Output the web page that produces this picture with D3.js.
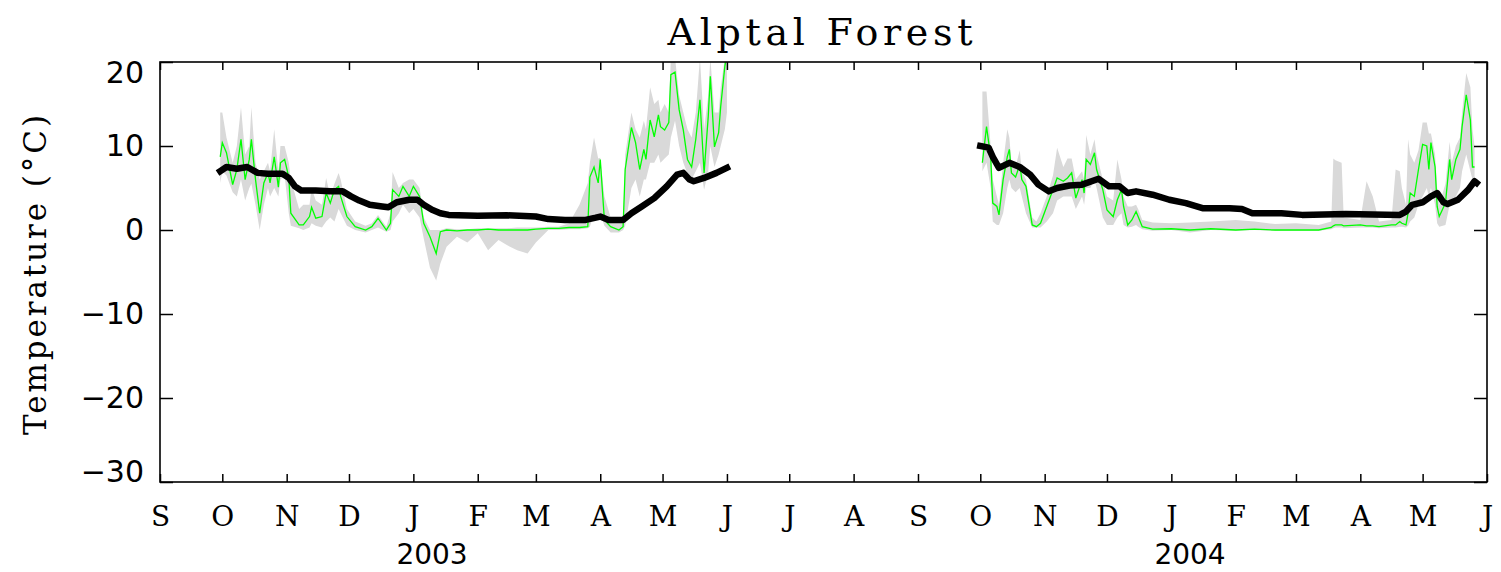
<!DOCTYPE html>
<html>
<head>
<meta charset="utf-8">
<script src="https://cdn.jsdelivr.net/npm/d3@7/dist/d3.min.js"></script>
<style>
  body { margin: 0; background: #fff; }
  svg { display: block; }
</style>
</head>
<body>
<div id="chart"></div>
<script>
// ---- data (°C) ----
// season 1: Oct 2002 - Jun 2003
var s1Dates = ["2002-09-30","2002-10-01","2002-10-03","2002-10-06","2002-10-08","2002-10-10","2002-10-12","2002-10-14","2002-10-15","2002-10-17",
  "2002-10-19","2002-10-21","2002-10-23","2002-10-24","2002-10-26","2002-10-28","2002-10-29","2002-10-31","2002-11-02","2002-11-03",
  "2002-11-07","2002-11-09","2002-11-12","2002-11-13","2002-11-15","2002-11-18","2002-11-20","2002-11-22","2002-11-24","2002-11-26",
  "2002-11-27","2002-11-30","2002-12-04","2002-12-09","2002-12-12","2002-12-15","2002-12-19","2002-12-21","2002-12-22","2002-12-25",
  "2002-12-27","2002-12-30","2003-01-01","2003-01-04","2003-01-06","2003-01-09","2003-01-12","2003-01-14","2003-01-17","2003-01-22",
  "2003-01-27","2003-02-01","2003-02-06","2003-02-11","2003-02-15","2003-02-20","2003-02-25","2003-03-01","2003-03-07","2003-03-12",
  "2003-03-17","2003-03-22","2003-03-26","2003-03-27","2003-03-29","2003-03-31","2003-04-01","2003-04-03","2003-04-06","2003-04-10",
  "2003-04-12","2003-04-13","2003-04-16","2003-04-18","2003-04-20","2003-04-22","2003-04-23","2003-04-25","2003-04-27","2003-04-29",
  "2003-04-30","2003-05-02","2003-05-04","2003-05-05","2003-05-07","2003-05-09","2003-05-11","2003-05-13","2003-05-15","2003-05-17",
  "2003-05-19","2003-05-21","2003-05-23","2003-05-24","2003-05-26","2003-05-28","2003-05-29","2003-05-31","2003-06-01"];
var s1Air = [8.7,10.4,9.2,5.4,7.2,10.8,6.0,8.4,10.8,6.0,
  2.0,5.6,6.8,5.6,8.7,5.1,8.0,8.4,6.3,2.0,
  0.6,0.6,1.6,2.7,1.4,1.6,4.4,3.2,4.8,5.2,
  4.0,1.6,0.4,0.0,0.4,1.4,0.0,0.8,4.8,4.0,
  5.2,4.0,5.2,4.0,0.8,-0.8,-2.8,-0.2,0.0,-0.1,
  0.0,0.0,0.1,0.0,0.0,0.0,0.0,0.1,0.2,0.2,
  0.3,0.3,0.4,6.3,7.5,5.6,8.4,1.2,0.4,0.0,
  0.4,7.2,12.2,10.4,7.2,9.6,8.4,13.1,11.1,13.7,
  12.3,11.9,12.8,18.5,18.8,14.3,11.9,8.4,7.5,10.8,
  15.5,6.8,13.5,18.3,9.9,11.6,14.7,19.5,21.0];
var s1AirMax = [14.0,14.0,11.0,8.0,10.0,14.6,9.0,10.0,14.6,8.0,
  6.0,7.0,8.0,7.0,12.0,7.0,10.0,10.0,8.0,6.0,
  2.5,3.0,3.0,5.0,3.5,3.0,6.2,4.0,5.5,6.8,
  6.0,2.5,1.0,0.5,0.8,1.8,0.4,2.0,6.9,5.0,
  5.6,6.0,6.0,5.0,1.5,0.0,0.0,0.0,0.2,0.1,
  0.1,0.2,0.2,0.2,0.2,0.3,0.3,0.3,0.4,0.4,
  0.8,3.0,5.6,8.0,11.0,8.5,8.6,4.0,1.5,0.8,
  1.0,9.0,14.0,12.0,11.0,13.0,12.0,17.0,15.0,15.5,
  14.0,15.0,14.0,20.5,20.5,16.0,14.0,12.0,11.0,14.0,
  20.5,12.0,16.0,20.5,14.0,14.0,17.0,20.5,21.0];
var s1AirMin = [5.6,7.0,6.5,4.5,4.0,6.0,3.5,5.0,5.5,3.0,
  0.0,3.0,5.0,4.0,5.0,4.0,6.0,6.5,2.0,0.5,
  0.2,0.0,0.3,0.8,0.5,0.3,1.0,1.5,1.0,2.5,
  2.0,0.5,0.0,-0.3,0.0,0.3,-0.2,0.0,1.0,2.0,
  3.0,2.0,2.5,1.5,-1.0,-4.5,-6.0,-4.0,-2.0,-0.8,
  -1.5,-0.4,-2.4,-1.2,-1.8,-2.4,-2.8,-1.5,0.0,0.0,
  0.1,0.1,0.2,0.4,2.0,1.5,2.0,0.5,-0.3,-0.3,
  0.0,0.5,5.0,6.0,4.0,6.0,6.0,8.0,8.0,9.0,
  8.0,8.5,9.0,11.0,13.0,10.0,8.0,6.7,6.0,7.0,
  8.0,4.8,7.0,10.0,7.5,9.0,10.0,12.0,14.0];
var s1SoilDates = ["2002-09-30","2002-10-03","2002-10-08","2002-10-13","2002-10-18","2002-10-23","2002-10-30","2002-11-02","2002-11-05","2002-11-08",
  "2002-11-15","2002-11-22","2002-11-28","2002-12-02","2002-12-06","2002-12-11","2002-12-17","2002-12-20","2002-12-24","2002-12-30",
  "2003-01-03","2003-01-06","2003-01-10","2003-01-14","2003-01-18","2003-02-01","2003-02-15","2003-03-01","2003-03-07","2003-03-15",
  "2003-03-25","2003-04-01","2003-04-05","2003-04-12","2003-04-16","2003-04-21","2003-04-27","2003-05-03","2003-05-08","2003-05-11",
  "2003-05-14","2003-05-16","2003-05-21","2003-05-27","2003-06-01"];
var s1Soil = [7.0,7.5,7.3,7.5,6.8,6.7,6.7,6.2,5.2,4.7,
  4.7,4.6,4.6,4.0,3.5,3.0,2.8,2.7,3.3,3.6,
  3.6,3.0,2.4,2.0,1.8,1.7,1.75,1.6,1.3,1.2,
  1.2,1.6,1.2,1.2,2.0,2.8,3.8,5.2,6.6,6.8,
  6.0,5.8,6.2,6.8,7.4];

// season 2: Oct 2003 - May 2004
var s2Dates = ["2003-10-02","2003-10-04","2003-10-06","2003-10-07","2003-10-09","2003-10-10","2003-10-12","2003-10-14","2003-10-15","2003-10-16",
  "2003-10-18","2003-10-20","2003-10-21","2003-10-23","2003-10-26","2003-10-28","2003-10-30","2003-11-02","2003-11-05","2003-11-07",
  "2003-11-10","2003-11-12","2003-11-14","2003-11-16","2003-11-19","2003-11-20","2003-11-21","2003-11-23","2003-11-25","2003-11-26",
  "2003-11-29","2003-12-01","2003-12-04","2003-12-06","2003-12-08","2003-12-09","2003-12-11","2003-12-13","2003-12-15","2003-12-16",
  "2003-12-18","2003-12-23","2004-01-01","2004-01-10","2004-01-20","2004-02-01","2004-02-10","2004-02-20","2004-03-01","2004-03-12",
  "2004-03-18","2004-03-19","2004-03-20","2004-03-23","2004-03-24","2004-04-01","2004-04-04","2004-04-07","2004-04-10","2004-04-16",
  "2004-04-18","2004-04-20","2004-04-21","2004-04-23","2004-04-24","2004-04-25","2004-04-27","2004-04-29","2004-05-01","2004-05-03",
  "2004-05-04","2004-05-05","2004-05-07","2004-05-08","2004-05-09","2004-05-12","2004-05-14","2004-05-15","2004-05-17","2004-05-19",
  "2004-05-20","2004-05-22","2004-05-24","2004-05-25","2004-05-26"];
var s2Air = [8.0,12.3,8.7,3.2,2.8,1.8,6.0,8.7,9.6,6.8,
  6.3,7.8,6.0,5.2,0.6,0.4,0.8,2.8,4.8,6.2,
  5.8,6.2,6.8,3.8,6.0,4.4,8.4,7.8,9.2,7.2,
  4.8,2.4,1.6,3.6,4.8,2.8,0.6,1.2,2.2,1.6,
  0.4,0.1,0.15,0.0,0.15,0.0,0.1,0.0,0.0,0.0,
  0.3,0.5,0.6,0.6,0.5,0.6,0.5,0.5,0.4,0.6,
  0.6,1.0,0.8,0.6,2.0,4.4,4.0,7.2,10.2,10.0,
  7.2,10.4,7.5,2.8,1.6,3.2,8.4,6.0,8.4,9.6,
  12.3,16.1,13.1,7.5,7.5];
var s2AirMax = [16.5,16.5,10.0,6.0,4.0,3.0,8.0,12.0,11.0,8.0,
  7.5,9.5,7.0,6.0,1.5,1.0,2.0,4.0,6.5,9.8,
  7.5,8.5,8.5,6.0,7.0,6.0,11.3,9.0,10.8,9.0,
  6.0,4.0,3.5,8.4,6.0,4.0,2.8,2.8,3.0,2.5,
  1.2,0.9,0.8,0.9,1.0,1.2,1.0,0.7,0.8,0.6,
  1.0,8.5,8.3,8.0,1.5,1.2,5.8,4.0,1.0,1.2,
  7.2,7.0,5.0,3.0,10.8,9.0,8.0,9.5,12.8,12.8,
  11.5,11.5,9.0,5.0,3.0,5.5,10.5,8.0,10.0,11.0,
  14.0,18.7,17.0,12.0,10.0];
var s2AirMin = [7.0,8.0,5.0,1.0,0.6,0.6,2.0,5.0,6.0,5.0,
  4.5,5.0,4.0,2.0,0.3,0.3,0.3,1.0,2.0,3.5,
  4.0,4.0,4.0,2.5,4.0,3.0,5.0,5.0,6.0,5.0,
  1.5,0.6,0.6,1.5,2.0,0.6,0.3,0.4,0.6,0.4,
  0.1,-0.1,0.0,-0.3,0.0,-0.1,0.0,-0.1,-0.1,-0.1,
  0.1,0.2,0.3,0.3,0.2,0.3,0.3,0.3,0.2,0.3,
  0.3,0.4,0.4,0.3,0.5,1.0,1.5,3.0,4.0,5.0,
  4.0,5.0,3.0,0.8,0.4,0.6,3.0,3.0,4.0,5.0,
  7.0,9.0,7.0,6.0,6.0];
var s2SoilDates = ["2003-10-01","2003-10-05","2003-10-07","2003-10-10","2003-10-15","2003-10-20","2003-10-25","2003-10-29","2003-11-03","2003-11-07",
  "2003-11-13","2003-11-19","2003-11-27","2003-12-02","2003-12-07","2003-12-11","2003-12-15","2003-12-23","2003-12-31","2004-01-08",
  "2004-01-16","2004-01-29","2004-02-04","2004-02-09","2004-02-23","2004-03-04","2004-03-25","2004-04-20","2004-04-23","2004-04-26",
  "2004-05-01","2004-05-05","2004-05-08","2004-05-11","2004-05-13","2004-05-18","2004-05-23","2004-05-26","2004-05-27"];
var s2Soil = [10.0,9.8,8.7,7.4,8.0,7.5,6.6,5.4,4.6,5.0,
  5.3,5.4,6.1,5.2,5.2,4.4,4.6,4.2,3.6,3.2,
  2.6,2.6,2.5,2.0,2.0,1.8,1.9,1.8,2.2,3.0,
  3.3,4.0,4.4,3.3,3.1,3.6,4.8,5.8,5.6];

var yTickValues = [-30, -20, -10, 0, 10, 20];
var monthLetters = ["J","F","M","A","M","J","J","A","S","O","N","D"];
var yearLabels = [{ year: "2003", at: "2003-01-10" }, { year: "2004", at: "2004-01-10" }];

var parseDate = d3.timeParse("%Y-%m-%d");

var alptalChart = {
    width: 1501,
    height: 572,
    plot: { left: 160, right: 1487, top: 62, bottom: 482 },

    setupSVG: function() {
        this.svg = d3.select("#chart").append("svg")
            .attr("width", this.width)
            .attr("height", this.height);

        this.x = d3.scaleTime()
            .domain([parseDate("2002-09-01"), parseDate("2004-06-01")])
            .range([this.plot.left, this.plot.right]);
        this.y = d3.scaleLinear()
            .domain([-30, 20])
            .range([this.plot.bottom, this.plot.top]);

        this.svg.append("clipPath").attr("id", "plotClip")
            .append("rect")
            .attr("x", this.plot.left)
            .attr("y", this.plot.top)
            .attr("width", this.plot.right - this.plot.left)
            .attr("height", this.plot.bottom - this.plot.top);

        this.dataLayer = this.svg.append("g").attr("clip-path", "url(#plotClip)");
    },

    drawSeason: function(dates, air, airMax, airMin, soilDates, soil) {
        var self = this;
        var rows = dates.map((d, i) => ({ date: parseDate(d), air: air[i], hi: airMax[i], lo: airMin[i] }));
        var soilRows = soilDates.map((d, i) => ({ date: parseDate(d), v: soil[i] }));

        // min/max range as grey band
        this.dataLayer.append("path")
            .datum(rows)
            .attr("fill", "#d9d9d9")
            .attr("d", d3.area()
                .x(d => self.x(d.date))
                .y0(d => self.y(d.lo))
                .y1(d => self.y(d.hi)));

        this.dataLayer.append("path")
            .datum(rows)
            .attr("fill", "none")
            .attr("stroke", "#00ff00")
            .attr("stroke-width", 1.3)
            .attr("d", d3.line().x(d => self.x(d.date)).y(d => self.y(d.air)));

        this.dataLayer.append("path")
            .datum(soilRows)
            .attr("fill", "none")
            .attr("stroke", "#000")
            .attr("stroke-width", 6.5)
            .attr("stroke-linejoin", "round")
            .attr("stroke-linecap", "square")
            .attr("d", d3.line().x(d => self.x(d.date)).y(d => self.y(d.v)));
    },

    drawAxes: function() {
        var p = this.plot;
        var months = d3.timeMonth.every(1);
        var monthFmt = d => monthLetters[d.getMonth()];

        var bottom = this.svg.append("g")
            .attr("transform", "translate(0," + p.bottom + ")")
            .call(d3.axisBottom(this.x).ticks(months).tickSize(-8).tickPadding(24).tickFormat(monthFmt));
        bottom.selectAll("text")
            .attr("font-family", "'DejaVu Serif', serif")
            .attr("font-size", 28)
            .attr("fill", "#000");

        this.svg.append("g")
            .attr("transform", "translate(0," + p.top + ")")
            .call(d3.axisTop(this.x).ticks(months).tickSize(-8).tickFormat(""));

        var left = this.svg.append("g")
            .attr("transform", "translate(" + p.left + ",0)")
            .call(d3.axisLeft(this.y).tickValues(yTickValues).tickSize(-13).tickPadding(16));
        left.selectAll("text")
            .attr("font-family", "'DejaVu Sans', sans-serif")
            .attr("font-size", 30)
            .attr("fill", "#000")
            // keep end labels inside the frame height, as in the original
            .attr("y", d => d === 20 ? 11 : (d === -30 ? -10 : 0));

        this.svg.append("g")
            .attr("transform", "translate(" + p.right + ",0)")
            .call(d3.axisRight(this.y).tickValues(yTickValues).tickSize(-13).tickFormat(""));

        this.svg.selectAll(".domain").remove();
        this.svg.selectAll(".tick line").attr("stroke", "#000").attr("stroke-width", 1.5);

        // frame
        this.svg.append("rect")
            .attr("x", p.left).attr("y", p.top)
            .attr("width", p.right - p.left).attr("height", p.bottom - p.top)
            .attr("fill", "none").attr("stroke", "#000").attr("stroke-width", 1.6);

        // year labels
        this.svg.selectAll(".year-label")
            .data(yearLabels)
            .enter().append("text")
            .attr("class", "year-label")
            .attr("x", d => this.x(parseDate(d.at)))
            .attr("y", 564)
            .attr("text-anchor", "middle")
            .attr("font-family", "'DejaVu Sans', sans-serif")
            .attr("font-size", 28)
            .text(d => d.year);

        // title
        this.svg.append("text")
            .attr("x", 820).attr("y", 45)
            .attr("text-anchor", "middle")
            .attr("font-family", "'DejaVu Serif', serif")
            .attr("font-size", 38)
            .attr("textLength", 305)
            .attr("lengthAdjust", "spacing")
            .text("Alptal Forest");

        // y axis title
        this.svg.append("text")
            .attr("transform", "translate(46," + ((p.top + p.bottom) / 2 + 3) + ") rotate(-90)")
            .attr("text-anchor", "middle")
            .attr("font-family", "'DejaVu Serif', serif")
            .attr("font-size", 31)
            .attr("textLength", 320)
            .attr("lengthAdjust", "spacing")
            .text("Temperature (°C)");
    },

    init: function() {
        this.setupSVG();
        this.drawSeason(s1Dates, s1Air, s1AirMax, s1AirMin, s1SoilDates, s1Soil);
        this.drawSeason(s2Dates, s2Air, s2AirMax, s2AirMin, s2SoilDates, s2Soil);
        this.drawAxes();
    }
};

alptalChart.init();
</script>
</body>
</html>
